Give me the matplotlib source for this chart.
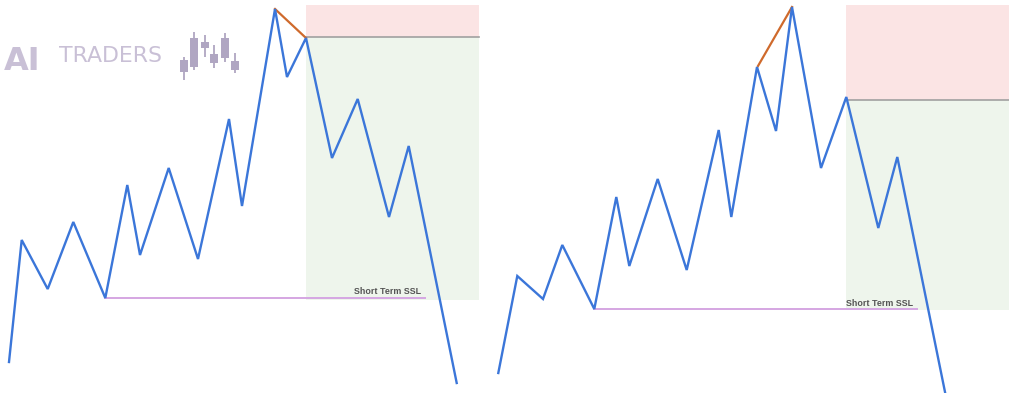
import matplotlib
matplotlib.use('Agg')
import matplotlib.pyplot as plt
from matplotlib.patches import Rectangle

# swing points, left setup (x, price)
left_x = [9, 21.7, 47.7, 73.3, 105.3, 127.3, 140, 168.7, 198, 229, 242, 275, 287, 306, 332, 357.7, 389, 408.7, 456.7]
left_p = [31, 153, 104, 171, 95, 208, 138, 225, 134, 274, 187, 384, 316, 355, 235, 294, 176, 247, 10]

# swing points, right setup
right_x = [498.3, 517.3, 543, 562.3, 594.3, 616.3, 629.3, 657.7, 686.7, 718.7, 731.3, 757, 776, 792, 821, 846.3, 878.3, 897.3, 945]
right_p = [20, 117, 94, 148, 84, 196, 127, 214, 123, 263, 176, 326, 262, 386, 225, 296, 165, 236, 1]

# trade zones: x start, x end, stop top, entry, target
left_zone = (306, 479, 388, 356, 93)
right_zone = (846, 1009, 388, 293, 83)

# short term ssl: x start, x end, level
left_ssl = (105.3, 425, 95)
right_ssl = (594.3, 917, 84)

# orange legs (x pair, price pair)
left_leg = ([275, 306], [384, 355])
right_leg = ([758, 792], [327, 386])

# logo candles: x, body bottom/top, wick low/high (price)
candle_x = [184, 194, 205, 214, 225, 235]
candle_lo = [313, 323, 336, 325, 331, 320]
candle_hi = [336, 361, 358, 348, 360, 340]
candle_bot = [321, 326, 345, 330, 335, 323]
candle_top = [333, 355, 351, 339, 355, 332]

BLUE = '#3b76d9'
ORANGE = '#cf6a2c'
LOGO = '#c9c0d6'
CANDLE = '#b0a6c2'

fig = plt.figure(figsize=(10.09, 3.93), dpi=100)
ax1 = fig.add_axes([0, 0, 495 / 1009, 1])
ax2 = fig.add_axes([495 / 1009, 0, 514 / 1009, 1])
ax1.set_xlim(0, 495)
ax2.set_xlim(495, 1009)


def draw_panel(ax, xs, ps, zone, ssl, leg, text_end, text_y):
    x0, x1, top, entry, target = zone
    ax.add_patch(Rectangle((x0, entry), x1 - x0, top - entry, color='#fbe4e4', lw=0, zorder=0))
    ax.add_patch(Rectangle((x0, target), x1 - x0, entry - target, color='#eef5ec', lw=0, zorder=0))
    ax.plot([x0, x1], [entry, entry], color='#a0a0a0', lw=1.2, zorder=1)
    ax.plot([ssl[0], ssl[1]], [ssl[2], ssl[2]], color='#d5a6e2', lw=1.4, zorder=1)
    ax.text(text_end, text_y, 'Short Term SSL', ha='right', va='baseline',
            fontsize=6.4, color='#555555', fontweight='bold', family='Liberation Sans')
    ax.plot(leg[0], leg[1], color=ORANGE, lw=1.6, zorder=2)
    ax.plot(xs, ps, color=BLUE, lw=1.7, solid_joinstyle='miter', zorder=3)
    ax.set_ylim(0, 393)
    ax.axis('off')


draw_panel(ax1, left_x, left_p, left_zone, left_ssl, left_leg, 421, 99)
draw_panel(ax2, right_x, right_p, right_zone, right_ssl, right_leg, 913, 87)

# watermark logo
ax1.text(4, 323, 'AI', fontsize=23, fontweight='bold', color=LOGO, va='baseline', ha='left')
ax1.text(59, 331, 'TRADERS', fontsize=15.8, color=LOGO, va='baseline', ha='left')
ax1.vlines(candle_x, candle_lo, candle_hi, color=CANDLE, lw=1.3)
ax1.bar(candle_x, [t - b for t, b in zip(candle_top, candle_bot)], bottom=candle_bot,
        width=7.5, color=CANDLE, lw=0)

fig.savefig('out.png', dpi=100)
